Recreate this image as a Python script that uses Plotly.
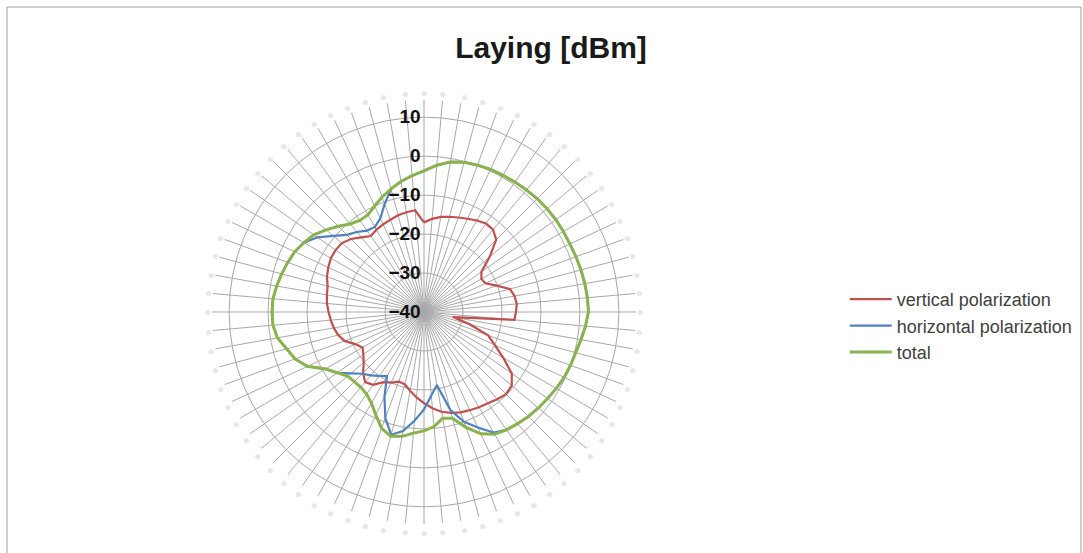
import plotly.graph_objects as go

# categories: angle in degrees (clockwise from top)
angles = list(range(0, 360, 5))

vertical = [-17.0, -16.0, -15.2, -14.7, -14.2, -13.6, -12.9, -12.3, -12.4, -13.8,
            -18.0, -22.0, -23.0, -22.6, -20.2, -17.2, -16.4, -16.1, -16.4, -16.7,
            -32.5, -28.0, -22.5, -20.0, -16.5, -12.5, -10.6, -10.2, -10.8, -11.4,
            -11.8, -12.2, -12.6, -13.2, -14.0, -15.2, -16.6, -18.0, -19.5, -20.8,
            -21.0, -20.0, -19.2, -17.2, -16.5, -17.9, -19.8, -21.0, -21.8, -20.5,
            -18.3, -17.2, -16.5, -16.0, -15.5, -15.0, -14.7, -14.4, -13.5, -12.9,
            -12.4, -12.3, -12.5, -13.5, -15.0, -16.2, -15.6, -15.2, -14.8, -14.3,
            -14.0, -13.8]

horizontal = [-3.8, -2.2, -0.9, -0.2, 0.1, 0.4, 0.5, 0.7, 0.9, 1.1,
              1.2, 1.3, 1.3, 1.3, 1.5, 1.7, 1.9, 2.1, 2.2, 1.6,
              0.9, 0.3, 0.0, -0.3, -0.8, -1.3, -1.7, -2.1, -2.6, -3.1,
              -4.3, -7.3, -10.0, -14.0, -21.0, -18.5, -15.0, -12.0, -9.0, -7.4,
              -11.0, -16.0, -21.0, -20.0, -18.8, -17.6, -15.5, -12.8, -10.8, -7.0,
              -4.8, -3.5, -1.8, -1.1, -1.0, -1.1, -1.6, -2.2, -2.8, -3.4,
              -4.4, -6.6, -9.6, -12.0, -13.2, -14.5, -14.8, -13.5, -10.5, -7.3,
              -6.0, -4.9]

total = [-3.8, -2.2, -0.9, -0.2, 0.1, 0.4, 0.5, 0.7, 0.9, 1.1,
         1.2, 1.3, 1.3, 1.3, 1.5, 1.7, 1.9, 2.1, 2.2, 1.6,
         0.9, 0.3, 0.0, -0.3, -0.8, -1.3, -1.7, -2.1, -2.6, -3.1,
         -3.8, -5.5, -8.5, -11.8, -12.3, -10.5, -9.5, -8.8, -7.6, -7.0,
         -8.2, -10.8, -13.0, -14.3, -14.8, -14.7, -14.4, -12.8, -10.8, -7.0,
         -4.8, -3.5, -1.8, -1.1, -1.0, -1.1, -1.6, -2.2, -2.8, -3.4,
         -4.4, -5.5, -7.2, -8.9, -10.5, -11.3, -11.2, -10.0, -8.6, -7.3,
         -6.0, -4.9]

radial_ticks = [-40, -30, -20, -10, 0, 10]

series = [
    ("vertical polarization", vertical, "#C0504D", 2.2),
    ("horizontal polarization", horizontal, "#4F81BD", 2.2),
    ("total", total, "#8AB24E", 3),
]

W, H = 1083, 553
cx, cy, R = 424, 312, 212

fig = go.Figure()
for name, vals, color, w in series:
    fig.add_trace(go.Scatterpolar(
        r=vals + vals[:1],
        theta=angles + angles[:1],
        mode="lines",
        name=name,
        line=dict(color=color, width=w),
    ))

fig.update_layout(
    width=W, height=H,
    margin=dict(l=0, r=0, t=0, b=0),
    paper_bgcolor="white",
    plot_bgcolor="white",
    title=dict(text="<b>Laying [dBm]</b>", x=551 / W, xanchor="center",
               y=1 - 47 / H, yanchor="middle",
               font=dict(family="Liberation Sans, Arial", size=30, color="#1a1a1a")),
    polar=dict(
        domain=dict(x=[(cx - R) / W, (cx + R) / W], y=[1 - (cy + R) / H, 1 - (cy - R) / H]),
        bgcolor="white",
        radialaxis=dict(
            range=[-40, 14.4],
            tickvals=radial_ticks,
            showline=False,
            showgrid=True,
            gridcolor="#a8a8a8",
            gridwidth=1,
            angle=90,
            tickangle=90,
            side="counterclockwise",
            ticks="",
            tickfont=dict(family="Liberation Sans, Arial", size=19, color="#111111", weight="bold"),
        ),
        angularaxis=dict(
            tickmode="array",
            tickvals=angles,
            ticktext=["\u25cf"] * len(angles),
            tickfont=dict(size=12, color="#e8e8e8"),
            direction="clockwise",
            rotation=90,
            showline=False,
            gridcolor="#a8a8a8",
            gridwidth=0.8,
            ticks="",
        ),
    ),
    legend=dict(
        x=0.780, y=1 - 281 / H, xanchor="left", yanchor="top",
        font=dict(family="Liberation Sans, Arial", size=18, color="#404040"),
        bgcolor="rgba(0,0,0,0)",
        tracegroupgap=0,
        itemwidth=42,
    ),
    shapes=[dict(type="rect", xref="paper", yref="paper",
                 x0=7 / W, x1=1081 / W, y0=-0.05, y1=1 - 7 / H,
                 line=dict(color="#a0a0a0", width=1))],
)

fig.write_html("out.html", config={"displayModeBar": False},
               post_script="document.body.style.margin='0';")
